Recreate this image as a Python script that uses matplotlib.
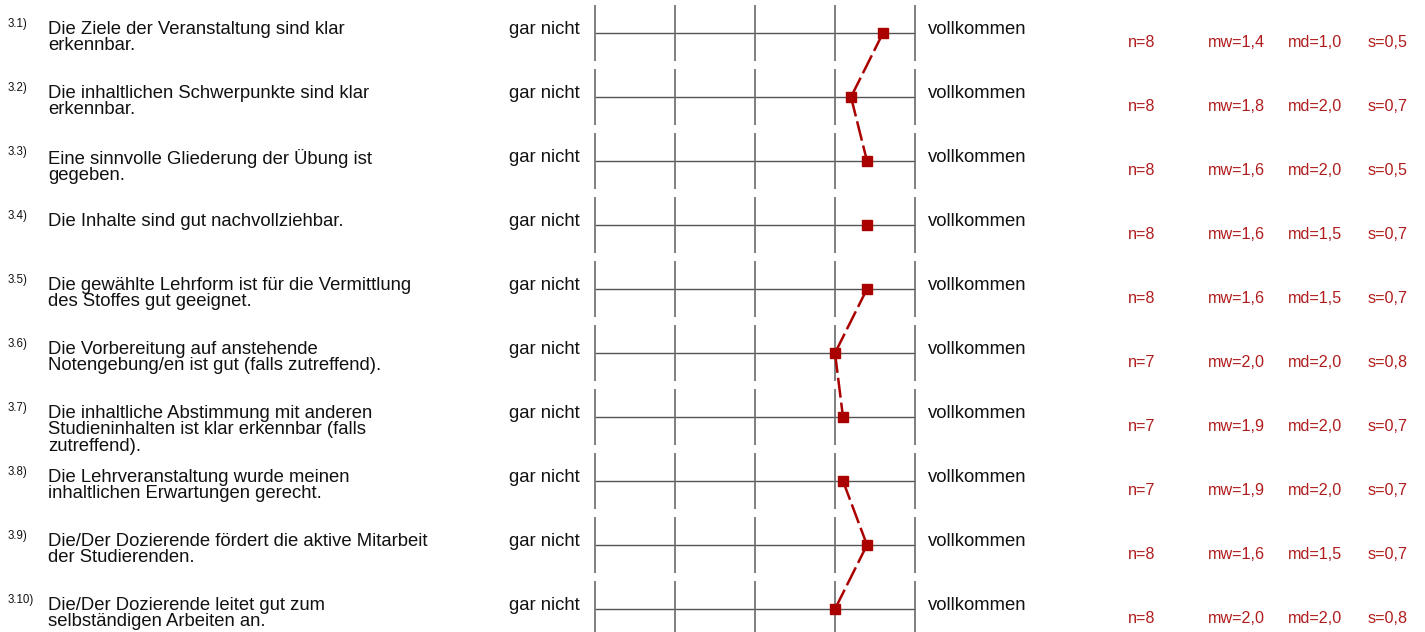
"""
Profillinie: Bewertung der Übung (Fragen 3.1 - 3.10)
"""

import matplotlib
matplotlib.use("Agg")
import matplotlib.pyplot as plt
import matplotlib.transforms as mtransforms

plt.rcParams['font.family'] = ['Liberation Sans', 'DejaVu Sans']

numbers = ["3.1)", "3.2)", "3.3)", "3.4)", "3.5)", "3.6)", "3.7)", "3.8)", "3.9)", "3.10)"]
questions = [
    "Die Ziele der Veranstaltung sind klar\nerkennbar.",
    "Die inhaltlichen Schwerpunkte sind klar\nerkennbar.",
    "Eine sinnvolle Gliederung der Übung ist\ngegeben.",
    "Die Inhalte sind gut nachvollziehbar.",
    "Die gewählte Lehrform ist für die Vermittlung\ndes Stoffes gut geeignet.",
    "Die Vorbereitung auf anstehende\nNotengebung/en ist gut (falls zutreffend).",
    "Die inhaltliche Abstimmung mit anderen\nStudieninhalten ist klar erkennbar (falls\nzutreffend).",
    "Die Lehrveranstaltung wurde meinen\ninhaltlichen Erwartungen gerecht.",
    "Die/Der Dozierende fördert die aktive Mitarbeit\nder Studierenden.",
    "Die/Der Dozierende leitet gut zum\nselbständigen Arbeiten an.",
]
left_label = "gar nicht"
right_label = "vollkommen"
scale = [1, 2, 3, 4, 5]

n = [8, 8, 8, 8, 8, 7, 7, 7, 8, 8]
mw = [1.4, 1.8, 1.6, 1.6, 1.6, 2.0, 1.9, 1.9, 1.6, 2.0]
md = [1.0, 2.0, 2.0, 1.5, 1.5, 2.0, 2.0, 2.0, 1.5, 2.0]
s = [0.5, 0.7, 0.5, 0.7, 0.7, 0.8, 0.7, 0.7, 0.7, 0.8]

W, H = 1425, 632
RED = '#aa0000'
STAT = '#b01c1c'
TXT = '#111111'
GRID = '#6a6a6a'

fig = plt.figure(figsize=(W / 100, H / 100), dpi=100)

# background axes in pixel coordinates for the text columns
bg = fig.add_axes([0, 0, 1, 1])
bg.set_xlim(0, W)
bg.set_ylim(H, 0)
bg.axis('off')

# scale axes: 5 (gar nicht) on the left, 1 (vollkommen) on the right
row0, step = 33, 64
ax = fig.add_axes([595 / W, 0, 320 / W, 1])
ax.set_xlim(max(scale), min(scale))
ax.set_ylim((H - row0) / step, -row0 / step)
ax.axis('off')

rows = list(range(len(questions)))
for i in rows:
    ax.hlines(i, max(scale), min(scale), color='#555555', lw=1.0, clip_on=False)
    ax.vlines(scale, i - 28 / step, i + 28 / step, color=GRID, lw=1.2, clip_on=False)

# profile line: the original only shows the slanted pieces, not the vertical ones
for i in rows[:-1]:
    if mw[i] != mw[i + 1]:
        ax.plot(mw[i:i + 2], rows[i:i + 2], color=RED, lw=1.8, dashes=(8, 2),
                clip_on=False, zorder=4)
ax.plot(mw, rows, ls='none', marker='s', markersize=7, color=RED,
        clip_on=False, zorder=5)

# text: x in pixels, y in row units of the scale axes
tr = mtransforms.blended_transform_factory(bg.transData, ax.transData)
px = 1 / step
for i in rows:
    bg.text(8, i - 6 * px, numbers[i], transform=tr, fontsize=8.3, color=TXT,
            ha='left', va='baseline')
    bg.text(48, i - 12 * px, questions[i], transform=tr, fontsize=13.3, color=TXT,
            ha='left', va='top', linespacing=0.96)
    bg.text(580, i + 1 * px, left_label, transform=tr, fontsize=13.3, color=TXT,
            ha='right', va='baseline')
    bg.text(928, i + 1 * px, right_label, transform=tr, fontsize=13.3, color=TXT,
            ha='left', va='baseline')
    stats = ["n=%d" % n[i],
             "mw=%s" % ("%.1f" % mw[i]).replace('.', ','),
             "md=%s" % ("%.1f" % md[i]).replace('.', ','),
             "s=%s" % ("%.1f" % s[i]).replace('.', ',')]
    for x, t in zip([1128, 1208, 1288, 1368], stats):
        bg.text(x, i + 14 * px, t, transform=tr, fontsize=11.6, color=STAT,
                ha='left', va='baseline')

fig.savefig('out.png', dpi=100)
